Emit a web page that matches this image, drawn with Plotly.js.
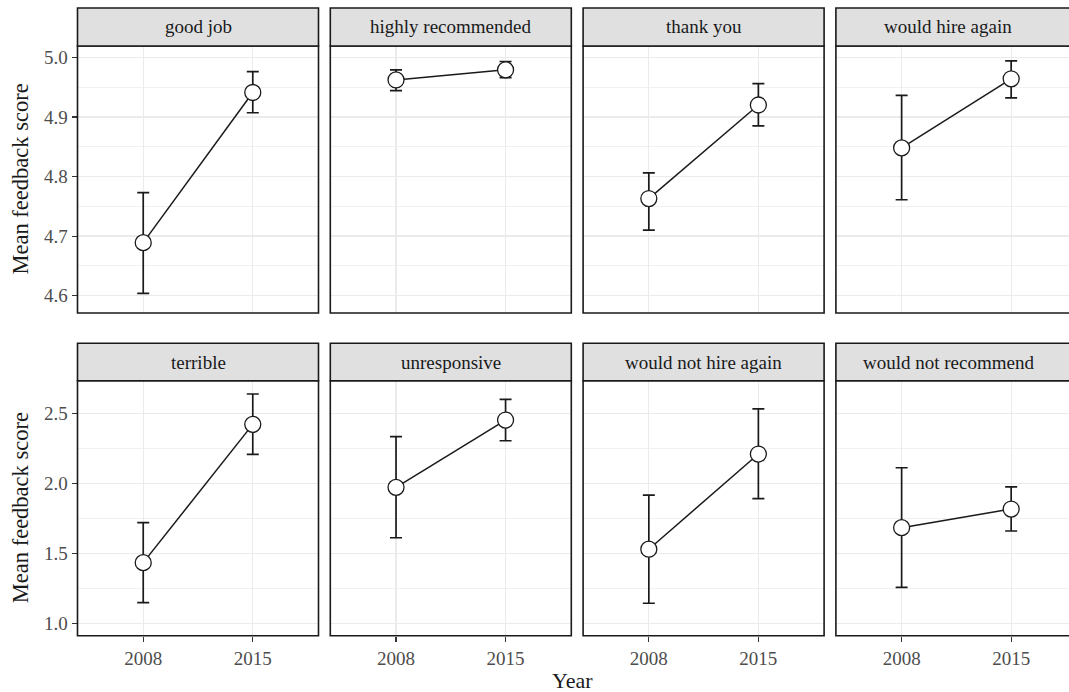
<!DOCTYPE html>
<html>
<head>
<meta charset="utf-8">
<script src="https://cdn.plot.ly/plotly-3.0.1.min.js"></script>
<style>html,body{margin:0;padding:0;background:#fff;}#chart{width:1069px;height:692px;}</style>
</head>
<body>
<div id="chart"></div>
<script>
const facets = ['good job','highly recommended','thank you','would hire again','terrible','unresponsive','would not hire again','would not recommend'];
const years = ['2008','2015'];
const mean2008 = [4.689, 4.962, 4.763, 4.848, 1.433, 1.971, 1.529, 1.683];
const low2008  = [4.604, 4.944, 4.710, 4.761, 1.147, 1.611, 1.143, 1.257];
const high2008 = [4.773, 4.979, 4.806, 4.936, 1.719, 2.333, 1.916, 2.111];
const mean2015 = [4.941, 4.979, 4.920, 4.964, 2.421, 2.452, 2.209, 1.816];
const low2015  = [4.907, 4.966, 4.885, 4.932, 2.207, 2.304, 1.890, 1.659];
const high2015 = [4.976, 4.993, 4.956, 4.994, 2.638, 2.600, 2.531, 1.974];
const topTicks = [4.6, 4.7, 4.8, 4.9, 5.0];
const bottomTicks = [1.0, 1.5, 2.0, 2.5];

const W = 1069, H = 692;
const FONT = 'Liberation Serif, Times New Roman, serif';
const INK = '#1a1a1a';
const GRID = '#ebebeb';

// pixel geometry
const panelLeft0 = 77.5, panelStep = 252.8, panelW = 241, unitPx = panelW / 2.2;
const rows = [
  {stripTop: 8, stripBot: 46, plotBot: 313, range: [4.571, 5.019], ticks: topTicks, minor: 0.05},
  {stripTop: 343.3, stripBot: 380.7, plotBot: 635.7, range: [0.911, 2.733], ticks: bottomTicks, minor: 0.25}
];

const px = v => v / W;
const py = v => 1 - v / H;

const data = [];
const layout = {
  width: W, height: H,
  margin: {l: 0, r: 0, t: 0, b: 0},
  paper_bgcolor: '#fff', plot_bgcolor: '#fff',
  showlegend: false,
  font: {family: FONT, color: INK},
  shapes: [], annotations: []
};

facets.forEach((name, i) => {
  const r = Math.floor(i / 4), c = i % 4;
  const row = rows[r];
  const idx = i + 1;
  const xa = 'x' + (idx === 1 ? '' : idx), ya = 'y' + (idx === 1 ? '' : idx);
  const left = panelLeft0 + c * panelStep;
  let right = left + panelW;
  let xmax = 1.6;
  if (right > W) { xmax = 1.6 - (right - W) / unitPx; }
  const domRight = Math.min(right, W);

  data.push({
    type: 'scatter', mode: 'lines+markers',
    x: years, y: [mean2008[i], mean2015[i]],
    xaxis: xa, yaxis: ya,
    line: {color: INK, width: 1.5},
    marker: {size: 16, color: '#ffffff', line: {color: INK, width: 1.3}},
    error_y: {type: 'data', symmetric: false,
      array: [high2008[i] - mean2008[i], high2015[i] - mean2015[i]],
      arrayminus: [mean2008[i] - low2008[i], mean2015[i] - low2015[i]],
      color: INK, thickness: 1.7, width: 6},
    hoverinfo: 'skip'
  });

  layout['xaxis' + (idx === 1 ? '' : idx)] = {
    domain: [px(left), px(domRight)],
    anchor: ya, type: 'category', range: [-0.6, xmax],
    showgrid: true, gridcolor: GRID, gridwidth: 1.3,
    zeroline: false, showline: false,
    showticklabels: r === 1, ticks: r === 1 ? 'outside' : '',
    ticklen: 5, tickwidth: 1.2, tickcolor: '#333',
    tickfont: {family: FONT, size: 19, color: '#4d4d4d'},
    fixedrange: true
  };
  layout['yaxis' + (idx === 1 ? '' : idx)] = {
    domain: [py(row.plotBot), py(row.stripBot)],
    anchor: xa, range: row.range,
    tickvals: row.ticks, tickformat: '.1f',
    showgrid: true, gridcolor: GRID, gridwidth: 1.3,
    minor: {dtick: row.minor, tick0: 0, showgrid: true, gridcolor: GRID, gridwidth: 0.7},
    zeroline: false, showline: false,
    showticklabels: c === 0, ticks: c === 0 ? 'outside' : '',
    ticklen: 5, tickwidth: 1.2, tickcolor: '#333',
    tickfont: {family: FONT, size: 19, color: '#4d4d4d'},
    fixedrange: true
  };

  // panel border
  layout.shapes.push({type: 'rect', xref: 'paper', yref: 'paper',
    x0: px(left), x1: px(right), y0: py(row.plotBot), y1: py(row.stripBot),
    line: {color: INK, width: 1.6}, fillcolor: 'rgba(0,0,0,0)', layer: 'above'});
  // strip
  layout.shapes.push({type: 'rect', xref: 'paper', yref: 'paper',
    x0: px(left), x1: px(right), y0: py(row.stripBot), y1: py(row.stripTop),
    line: {color: INK, width: 1.6}, fillcolor: '#e0e0e1', layer: 'above'});
  layout.annotations.push({xref: 'paper', yref: 'paper',
    x: px((left + Math.min(right, 1061)) / 2), y: py((row.stripTop + row.stripBot) / 2),
    text: name, showarrow: false, xanchor: 'center', yanchor: 'middle',
    font: {family: FONT, size: 19, color: INK}});
});

// axis titles
[rows[0], rows[1]].forEach(row => {
  layout.annotations.push({xref: 'paper', yref: 'paper',
    x: px(20), y: py((row.stripBot + row.plotBot) / 2),
    text: 'Mean feedback score', textangle: -90, showarrow: false,
    xanchor: 'center', yanchor: 'middle',
    font: {family: FONT, size: 22.5, color: INK}});
});
layout.annotations.push({xref: 'paper', yref: 'paper',
  x: px(572), y: py(680), text: 'Year', showarrow: false,
  xanchor: 'center', yanchor: 'middle',
  font: {family: FONT, size: 22, color: INK}});

Plotly.newPlot('chart', data, layout, {displayModeBar: false, staticPlot: true});
</script>
</body>
</html>
